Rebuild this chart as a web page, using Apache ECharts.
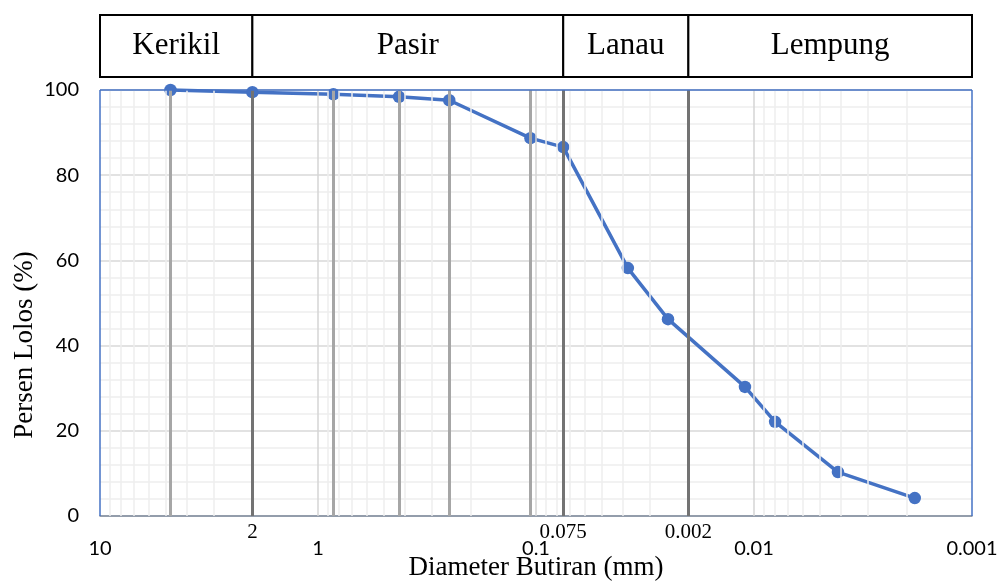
<!DOCTYPE html>
<html>
<head>
<meta charset="utf-8">
<script src="https://cdn.jsdelivr.net/npm/echarts@6/dist/echarts.min.js"></script>
<style>html,body{margin:0;padding:0;background:#fff;}#c{width:1005px;height:581px;}</style>
</head>
<body>
<div id="c"></div>
<script>
// ---- data ----
const sieveSizes = [4.75, 2, 0.85, 0.425, 0.25, 0.106, 0.075, 0.0379, 0.0248, 0.011, 0.0080, 0.00412, 0.00183];
const percentPassing = [100, 99.5, 99.0, 98.4, 97.6, 88.7, 86.6, 58.2, 46.2, 30.3, 22.1, 10.3, 4.2];
const sieveLines = [4.75, 0.85, 0.425, 0.25, 0.106];
const boundaryValues = [2, 0.075, 0.02];
const boundaryLabels = ['2', '0.075', '0.002'];
const soilNames = ['Kerikil', 'Pasir', 'Lanau', 'Lempung'];
const soilBounds = [10, 2, 0.075, 0.02, 0.001];
const xMin = 0.001, xMax = 10;
const yMin = 0, yMax = 100, yStep = 20;

const serif = '"Liberation Serif", "DejaVu Serif", serif';
const sans = 'Lato, "Liberation Sans", sans-serif';

// minor log grid lines (2..9 per decade) and inner decade lines
const minorGrid = [];
for (let k = -3; k <= 0; k++) {
  for (let m = 2; m <= 9; m++) minorGrid.push(+(m * Math.pow(10, k)).toPrecision(3));
}
const majorGrid = [1, 0.1, 0.01];

function vline(x, color, width) {
  return [{ coord: [x, yMin], lineStyle: { color: color, width: width, type: 'solid' } },
          { coord: [x, yMax] }];
}

const chart = echarts.init(document.getElementById('c'), null, { renderer: 'canvas' });
chart.setOption({
  backgroundColor: '#fff',
  animation: false,
  grid: [
    { left: 100, right: 33, top: 90, bottom: 65, show: false, containLabel: false, outerBoundsMode: 'none' },
    { left: 100, right: 33, top: 15, height: 62, show: false, containLabel: false, outerBoundsMode: 'none' }
  ],
  xAxis: [
    {
      type: 'log', gridIndex: 0, min: xMin, max: xMax, inverse: true, logBase: 10,
      name: 'Diameter Butiran (mm)', nameLocation: 'middle', nameGap: 38, nameMoveOverlap: false,
      nameTextStyle: { fontFamily: serif, fontSize: 27, color: '#000' },
      axisLine: { show: true, lineStyle: { color: '#7a8699', width: 1.5 } },
      axisTick: { show: false },
      splitLine: { show: false },
      axisLabel: { margin: 23, fontFamily: sans, fontSize: 20, color: '#000',
        formatter: function (v) { return String(+v.toPrecision(3)); } }
    },
    { type: 'log', gridIndex: 1, min: xMin, max: xMax, inverse: true, show: false }
  ],
  yAxis: [
    {
      type: 'value', gridIndex: 0, min: yMin, max: yMax, interval: yStep,
      name: 'Persen Lolos (%)', nameLocation: 'middle', nameGap: 62, nameRotate: 90, nameMoveOverlap: false,
      nameTextStyle: { fontFamily: serif, fontSize: 27, color: '#000', padding: [0, 84, 0, 0] },
      axisLine: { show: false }, axisTick: { show: false },
      axisLabel: { margin: 21, fontFamily: sans, fontSize: 20, color: '#000' },
      splitLine: { show: true, lineStyle: { color: '#d9d9d9', width: 1.5 } },
      minorTick: { show: false, splitNumber: 5 },
      minorSplitLine: { show: true, lineStyle: { color: '#eeeeee', width: 1.5 } }
    },
    { type: 'value', gridIndex: 1, min: 0, max: 1, show: false }
  ],
  series: [
    {
      type: 'line', xAxisIndex: 0, yAxisIndex: 0, data: [], z: 1, silent: true,
      markLine: {
        silent: true, symbol: 'none', animation: false, label: { show: false },
        data: minorGrid.map(v => vline(v, '#eeeeee', 1.5))
          .concat(majorGrid.map(v => vline(v, '#d4d4d4', 1.5)))
      }
    },
    {
      type: 'line', xAxisIndex: 0, yAxisIndex: 0,
      data: sieveSizes.map((s, i) => [s, percentPassing[i]]),
      z: 3, clip: false,
      lineStyle: { color: '#4472C4', width: 3.5 },
      itemStyle: { color: '#4472C4' },
      symbol: 'circle', symbolSize: 12.5, showSymbol: true
    },
    {
      type: 'line', xAxisIndex: 0, yAxisIndex: 0, data: [], z: 4, silent: true,
      markLine: {
        silent: true, symbol: 'none', animation: false,
        label: { show: false },
        data: sieveLines.map(v => vline(v, '#a6a6a6', 3))
          .concat(boundaryValues.map((v, i) => {
            const seg = vline(v, '#737373', 3);
            seg[0].label = { show: true, position: 'start', distance: 6, formatter: boundaryLabels[i],
              fontFamily: serif, fontSize: 21, color: '#000' };
            return seg;
          }))
          .concat([
            vline(xMax, '#4472C4', 1.5),
            vline(xMin, '#4472C4', 1.5),
            [{ coord: [xMax, yMax], lineStyle: { color: '#4472C4', width: 1.5, type: 'solid' } },
             { coord: [xMin, yMax] }]
          ])
      }
    },
    {
      type: 'line', xAxisIndex: 1, yAxisIndex: 1, data: [], silent: true,
      markArea: {
        silent: true,
        itemStyle: { color: '#fff', borderColor: '#000', borderWidth: 2 },
        label: { show: true, position: 'inside', fontFamily: serif, fontSize: 31, color: '#000' },
        data: soilNames.map((n, i) => [
          { name: n, xAxis: soilBounds[i], yAxis: 0 },
          { xAxis: soilBounds[i + 1], yAxis: 1 }
        ])
      }
    }
  ]
});
</script>
</body>
</html>
